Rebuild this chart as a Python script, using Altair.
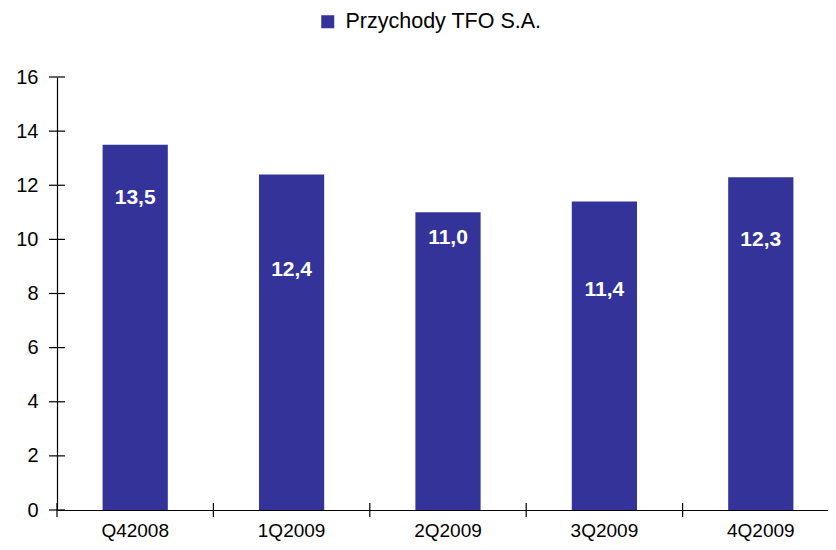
import altair as alt
import pandas as pd

categories = ["Q42008", "1Q2009", "2Q2009", "3Q2009", "4Q2009"]
values = [13.5, 12.4, 11.0, 11.4, 12.3]
label_pos = [11.53, 8.87, 10.05, 8.13, 9.98]
y_ticks = [0, 2, 4, 6, 8, 10, 12, 14, 16]
series_name = "Przychody TFO S.A."

df = pd.DataFrame({
    "cat": categories,
    "val": values,
    "lab": [f"{v:.1f}".replace(".", ",") for v in values],
    "lpos": label_pos,
    "series": [series_name] * len(categories),
})
ticks_df = pd.DataFrame({"t": y_ticks})
FONT = "Liberation Sans"
BAR = "#333399"
W = 771          # visible plot width (svg must fit in the window)
RANGE_W = 782    # band scale spans a little past the visible edge, like the original
P_IN = 0.583
STEP = RANGE_W / 5

x_scale = alt.Scale(domain=categories, paddingInner=P_IN, paddingOuter=P_IN / 2,
                    range=[0, RANGE_W])
y_scale = alt.Scale(domain=[0, 16], nice=False)

bars = alt.Chart(df).mark_bar(color=BAR).encode(
    x=alt.X("cat:N", scale=x_scale, sort=categories, title=None,
            axis=alt.Axis(labelAngle=0, labelPadding=11, labelFontSize=19)),
    y=alt.Y("val:Q", scale=y_scale, title=None,
            axis=alt.Axis(values=y_ticks, labelPadding=19, labelFontSize=20)),
    color=alt.Color("series:N", scale=alt.Scale(domain=[series_name], range=[BAR]),
                    legend=alt.Legend(title=None, orient="none", legendX=260, legendY=-66,
                                      symbolType="square", symbolSize=169, symbolStrokeWidth=0,
                                      labelFont=FONT, labelFontSize=21.5, labelColor="black",
                                      labelOffset=7, labelLimit=500, padding=0)),
)

texts = alt.Chart(df).mark_text(color="white", font=FONT, fontSize=21, fontWeight="bold",
                                baseline="middle").encode(
    x=alt.X("cat:N", scale=x_scale, sort=categories, title=None),
    y=alt.Y("lpos:Q", scale=y_scale, title=None),
    text="lab:N",
)

ytick_rules = alt.Chart(ticks_df).mark_rule(color="black", strokeWidth=1.2).encode(
    y=alt.Y("t:Q", scale=y_scale, title=None),
    x=alt.value(-8),
    x2=alt.value(8),
)

xtick_rules = alt.Chart(df).mark_rule(color="black", strokeWidth=1.2,
                                      xOffset=-P_IN * STEP / 2).encode(
    x=alt.X("cat:N", scale=x_scale, sort=categories, bandPosition=0, title=None),
    y=alt.value(426),
    y2=alt.value(440),
)

chart = alt.layer(bars, texts, ytick_rules, xtick_rules).properties(
    width=W,
    height=433,
    autosize=alt.AutoSizeParams(type="none"),
    padding={"left": 49, "top": 69, "right": 0, "bottom": 31},
).configure(background="white").configure_view(stroke=None, strokeWidth=0).configure_axis(
    grid=False, ticks=False, labelFont=FONT, labelColor="black",
    domainColor="black", domainWidth=1.2,
)

chart.save("out.html", embed_options={"renderer": "svg", "actions": False})
